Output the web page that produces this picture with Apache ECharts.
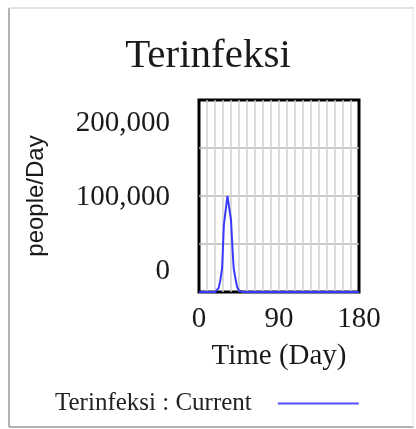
<!DOCTYPE html>
<html>
<head>
<meta charset="utf-8">
<script src="https://cdn.jsdelivr.net/npm/echarts@6/dist/echarts.min.js"></script>
<style>html,body{margin:0;padding:0;background:#fff;}#c{width:416px;height:429px;}</style>
</head>
<body>
<div id="c"></div>
<script>
const titleText = 'Terinfeksi';
const seriesName = 'Terinfeksi : Current';
const yName = 'people/Day';
const xName = 'Time (Day)';
const days = [0, 18, 20, 22, 24, 26, 27, 28, 30, 32, 33, 34, 36, 38, 39, 41, 43, 45, 47, 49, 180];
const values = [0, 0, 1000, 4000, 12000, 25000, 48000, 70000, 85000, 100000, 102000, 98000, 75000, 40000, 25000, 14000, 5000, 1500, 300, 0, 0];
const xTicks = [0, 90, 180];
const yTicks = [0, 100000, 200000];

const chart = echarts.init(document.getElementById('c'), null, {renderer: 'canvas'});
const serif = '"Liberation Serif", "DejaVu Serif", serif';
const blue = '#3a3aff';
chart.setOption({
  animation: false,
  backgroundColor: '#fff',
  title: {
    text: titleText, left: 'center', top: 36, padding: 0,
    textStyle: {fontFamily: serif, fontSize: 41, fontWeight: 'normal', color: '#1a1a1a'}
  },
  legend: {
    left: 50, top: 386, align: 'right', icon: 'rect', itemWidth: 81, itemHeight: 2,
    textStyle: {fontFamily: serif, fontSize: 25, color: '#222', padding: [0, 21, 0, 0]},
    data: [{name: seriesName, itemStyle: {color: '#5050ff'}}]
  },
  grid: {left: 199, right: 57, top: 100, bottom: 137, show: true, borderColor: '#000', borderWidth: 3, containLabel: false},
  xAxis: {
    type: 'value', min: 0, max: 180, interval: 9,
    name: xName, nameLocation: 'middle', nameGap: 50,
    nameTextStyle: {fontFamily: serif, fontSize: 29, color: '#1a1a1a'},
    axisLine: {show: false}, axisTick: {show: false},
    axisLabel: {customValues: xTicks, margin: 13, fontFamily: serif, fontSize: 29, color: '#1a1a1a', formatter: v => String(v)},
    splitLine: {show: true, showMinLine: false, showMaxLine: false, lineStyle: {color: '#cfcfcf', width: 1.5}}
  },
  yAxis: [{
    type: 'value', min: 0, max: 200000, interval: 50000,
    axisLine: {show: false}, axisTick: {show: false}, axisLabel: {show: false},
    splitLine: {show: true, showMinLine: false, showMaxLine: false, lineStyle: {color: '#b8b8b8', width: 1.5}}
  }, {
    type: 'value', position: 'left', min: -28378, max: 231081,
    name: yName, nameLocation: 'middle', nameGap: 151, nameRotate: 90,
    nameTextStyle: {fontFamily: '"Liberation Sans", Arial, sans-serif', fontSize: 24, color: '#1a1a1a'},
    axisLine: {show: false}, axisTick: {show: false}, splitLine: {show: false},
    axisLabel: {customValues: yTicks, margin: 29, fontFamily: serif, fontSize: 29, color: '#1a1a1a',
      formatter: v => v.toLocaleString('en-US')}
  }],
  series: [{
    name: seriesName, type: 'line', xAxisIndex: 0, yAxisIndex: 0,
    data: days.map((d, i) => [d, values[i]]),
    showSymbol: false, symbol: 'none', z: 5,
    lineStyle: {color: blue, width: 2}, itemStyle: {color: blue}
  }],
  graphic: [
    {type: 'line', shape: {x1: 9, y1: 8, x2: 9, y2: 427}, style: {stroke: '#999', lineWidth: 1.5}},
    {type: 'line', shape: {x1: 9, y1: 427, x2: 414, y2: 427}, style: {stroke: '#999', lineWidth: 1.5}},
    {type: 'line', shape: {x1: 9, y1: 8, x2: 414, y2: 8}, style: {stroke: '#d8d8d8', lineWidth: 1.5}},
    {type: 'line', shape: {x1: 413, y1: 8, x2: 413, y2: 427}, style: {stroke: '#ececec', lineWidth: 1.5}}
  ]
});
</script>
</body>
</html>
